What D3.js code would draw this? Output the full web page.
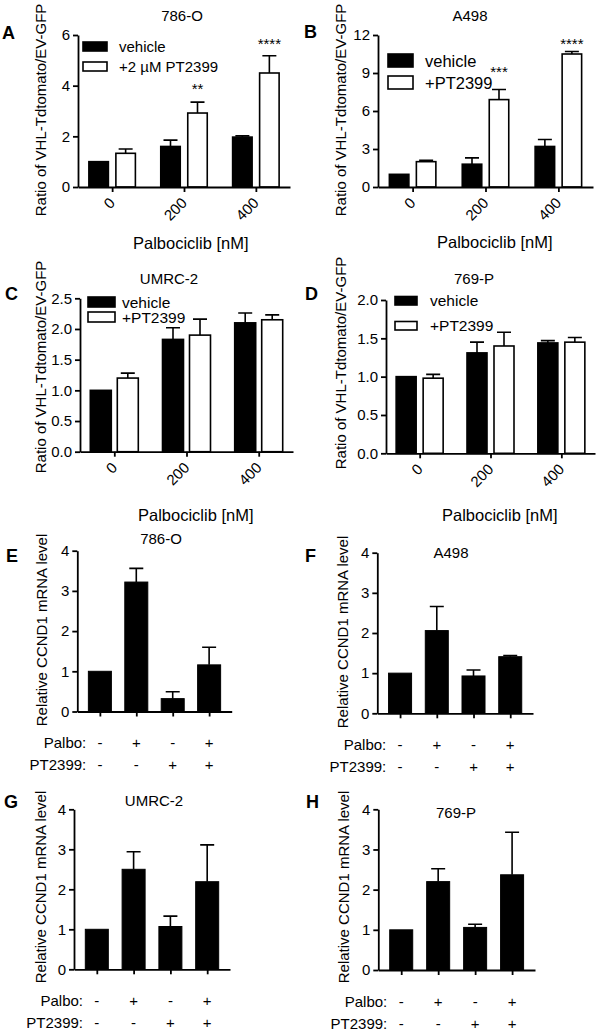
<!DOCTYPE html>
<html><head><meta charset="utf-8">
<script src="https://cdn.jsdelivr.net/npm/d3@7"></script>
<style>body{margin:0;background:#fff}</style>
</head><body><svg id="c" width="600" height="1031" style="background:#fff"></svg>
<script>
// ---------- data ----------
const doseLabels = ["0", "200", "400"];
const legendA = ["vehicle", "+2 µM PT2399"];
const legendOther = ["vehicle", "+PT2399"];

const aVehicle = [1.0, 1.6, 1.97], aVehicleSem = [0, 0.25, 0.05];
const aPT = [1.33, 2.92, 4.5], aPTSem = [0.17, 0.43, 0.68];
const aStarDose = ["200", "400"], aStarText = ["**", "****"], aStarLevel = [3.69, 5.46];

const bVehicle = [1.0, 1.8, 3.2], bVehicleSem = [0, 0.5, 0.55];
const bPT = [2.0, 6.9, 10.5], bPTSem = [0.1, 0.8, 0.2];
const bStarDose = ["200", "400"], bStarText = ["***", "****"], bStarLevel = [8.68, 10.92];

const cVehicle = [1.0, 1.83, 2.1], cVehicleSem = [0, 0.19, 0.16];
const cPT = [1.2, 1.9, 2.15], cPTSem = [0.08, 0.26, 0.08];

const dVehicle = [1.0, 1.31, 1.44], dVehicleSem = [0, 0.14, 0.03];
const dPT = [0.98, 1.4, 1.45], dPTSem = [0.05, 0.18, 0.06];

const conditions = ["c1", "c2", "c3", "c4"];
const palboSigns = ["-", "+", "-", "+"];
const ptSigns = ["-", "-", "+", "+"];
const eMean = [1.0, 3.22, 0.32, 1.16], eSem = [0, 0.34, 0.17, 0.44];
const fMean = [1.0, 2.06, 0.93, 1.41], fSem = [0, 0.6, 0.15, 0.03];
const gMean = [1.0, 2.5, 1.07, 2.19], gSem = [0, 0.44, 0.26, 0.92];
const hMean = [1.0, 2.2, 1.06, 2.37], hSem = [0, 0.32, 0.08, 1.06];

const ticksA = [0, 2, 4, 6], ticksB = [0, 3, 6, 9, 12];
const ticksC = [0, 0.5, 1.0, 1.5, 2.0, 2.5], ticksD = [0, 0.5, 1.0, 1.5, 2.0];
const ticksEH = [0, 1, 2, 3, 4];

const yTitleTop = "Ratio of VHL-Tdtomato/EV-GFP";
const xTitleTop = "Palbociclib [nM]";
const yTitleBottom = "Relative CCND1 mRNA level";

// ---------- drawing ----------
const FONT = "'Liberation Sans', Arial, Helvetica, sans-serif";
const svg = d3.select("#c");
const SW = 1.8;

function styleAxis(sel) {
  sel.attr("font-size", 15).attr("font-family", FONT);
  sel.selectAll("path,line").attr("stroke", "#000").attr("stroke-width", SW);
  sel.selectAll("text").attr("fill", "#000");
}

function txt(g, s, x, y, o = {}) {
  return g.append("text").attr("x", x).attr("y", y).text(s)
    .attr("font-family", FONT).attr("font-size", o.fs || 15)
    .attr("font-weight", o.bold ? "bold" : "normal")
    .attr("text-anchor", o.anchor || "middle")
    .attr("dominant-baseline", o.base || "central").attr("fill", "#000");
}

function groupedPanel(c, d) {
  const g = svg.append("g");
  const x = d3.scalePoint().domain(doseLabels).range([c.left, c.right]).padding(0.475);
  const y = d3.scaleLinear().domain([0, c.ymax]).range([c.bottom, c.top]);
  const series = [
    { vals: d.veh, sem: d.vehSem, fill: "#000", off: -c.gap / 2 - c.bw },
    { vals: d.pt, sem: d.ptSem, fill: "#fff", off: c.gap / 2 }
  ];
  series.forEach(s => {
    const rows = doseLabels.map((k, i) => ({ k, v: s.vals[i], e: s.sem[i] }));
    g.selectAll(null).data(rows.filter(r => r.e > 0)).enter().append("path")
      .attr("d", r => {
        const cx = x(r.k) + s.off + c.bw / 2, yt = y(r.v + r.e);
        return `M${cx},${y(r.v)}V${yt}M${cx - c.cap},${yt}H${cx + c.cap}`;
      })
      .attr("stroke", "#000").attr("stroke-width", 1.6).attr("fill", "none");
    g.selectAll(null).data(rows).enter().append("rect")
      .attr("x", r => x(r.k) + s.off).attr("width", c.bw)
      .attr("y", r => y(r.v)).attr("height", r => y(0) - y(r.v))
      .attr("fill", s.fill).attr("stroke", "#000").attr("stroke-width", 1.6);
  });
  if (d.starDose) {
    d.starDose.forEach((k, i) => {
      txt(g, d.starText[i], x(k) + c.gap / 2 + c.bw / 2, y(d.starLevel[i]), { base: "alphabetic" });
    });
  }
  const ya = g.append("g").attr("transform", `translate(${c.left},0)`)
    .call(d3.axisLeft(y).tickValues(c.ticks).tickFormat(c.fmt).tickSize(5).tickSizeOuter(0).tickPadding(3));
  styleAxis(ya);
  const xa = g.append("g").attr("transform", `translate(0,${c.bottom})`)
    .call(d3.axisBottom(x).tickSize(5).tickSizeOuter(0).tickFormat(""));
  styleAxis(xa);
  doseLabels.forEach(k => {
    g.append("text").text(k)
      .attr("transform", `translate(${x(k)},${c.bottom + 13}) rotate(-45)`)
      .attr("text-anchor", "end").attr("dominant-baseline", "central")
      .attr("font-family", FONT).attr("font-size", 15).attr("fill", "#000");
  });
  txt(g, c.title, c.titleX, c.titleY);
  txt(g, c.letter, c.letterX, c.letterY, { bold: true, fs: 18, anchor: "start", base: "alphabetic" });
  g.append("text").text(yTitleTop)
    .attr("transform", `translate(${c.yLabX},${c.yLabY}) rotate(-90)`)
    .attr("text-anchor", "middle").attr("dominant-baseline", "central")
    .attr("font-family", FONT).attr("font-size", 15).attr("fill", "#000");
  txt(g, xTitleTop, c.xTitleX, c.xTitleY, { anchor: "start", fs: 16.5 });
  const L = c.legend;
  d.legend.forEach((lab, i) => {
    g.append("rect").attr("x", L.x).attr("y", L.ys[i]).attr("width", L.w).attr("height", L.h)
      .attr("fill", i === 0 ? "#000" : "#fff").attr("stroke", "#000").attr("stroke-width", 1.6);
    txt(g, lab, L.tx, L.ys[i] + L.h / 2, { anchor: "start", fs: L.fs });
  });
}

function simplePanel(c, mean, sem) {
  const g = svg.append("g");
  const x = d3.scalePoint().domain(conditions).range([c.left, c.right]).padding(0.62);
  const y = d3.scaleLinear().domain([0, 4]).range([c.bottom, c.top]);
  const rows = conditions.map((k, i) => ({ k, v: mean[i], e: sem[i] }));
  g.selectAll(null).data(rows.filter(r => r.e > 0)).enter().append("path")
    .attr("d", r => {
      const cx = x(r.k), yt = y(r.v + r.e);
      return `M${cx},${y(r.v)}V${yt}M${cx - 7},${yt}H${cx + 7}`;
    })
    .attr("stroke", "#000").attr("stroke-width", 1.6).attr("fill", "none");
  g.selectAll(null).data(rows).enter().append("rect")
    .attr("x", r => x(r.k) - 11.5).attr("width", 23)
    .attr("y", r => y(r.v)).attr("height", r => y(0) - y(r.v))
    .attr("fill", "#000").attr("stroke", "#000").attr("stroke-width", 1);
  const ya = g.append("g").attr("transform", `translate(${c.left},0)`)
    .call(d3.axisLeft(y).tickValues(ticksEH).tickFormat(d3.format("d")).tickSize(5).tickSizeOuter(0).tickPadding(3));
  styleAxis(ya);
  const xa = g.append("g").attr("transform", `translate(0,${c.bottom})`)
    .call(d3.axisBottom(x).tickSize(5).tickSizeOuter(0).tickFormat(""));
  styleAxis(xa);
  txt(g, "Palbo:", c.left + 9, c.bottom + 31, { anchor: "end" });
  txt(g, "PT2399:", c.left + 9, c.bottom + 53, { anchor: "end" });
  conditions.forEach((k, i) => {
    txt(g, palboSigns[i], x(k), c.bottom + 31);
    txt(g, ptSigns[i], x(k), c.bottom + 53);
  });
  txt(g, c.title, c.titleX, c.titleY);
  txt(g, c.letter, c.letterX, c.letterY, { bold: true, fs: 18, anchor: "start", base: "alphabetic" });
  g.append("text").text(yTitleBottom)
    .attr("transform", `translate(${c.yLabX},${c.yLabY}) rotate(-90)`)
    .attr("text-anchor", "middle").attr("dominant-baseline", "central")
    .attr("font-family", FONT).attr("font-size", 15).attr("fill", "#000");
}

const f1 = d3.format("d"), f2 = d3.format(".1f");

groupedPanel({ left: 78, right: 290, top: 35, bottom: 187, ymax: 6, ticks: ticksA, fmt: f1,
  bw: 19.5, gap: 7.5, cap: 7, title: "786-O", titleX: 182, titleY: 15, letter: "A", letterX: 2, letterY: 39,
  yLabX: 40, yLabY: 110, xTitleX: 133, xTitleY: 243,
  legend: { x: 83, ys: [42, 62], w: 24, h: 9, tx: 119, fs: 15 } },
  { veh: aVehicle, vehSem: aVehicleSem, pt: aPT, ptSem: aPTSem, legend: legendA,
    starDose: aStarDose, starText: aStarText, starLevel: aStarLevel });

groupedPanel({ left: 378, right: 593, top: 35, bottom: 187, ymax: 12, ticks: ticksB, fmt: f1,
  bw: 19.5, gap: 7.5, cap: 7, title: "A498", titleX: 470, titleY: 15, letter: "B", letterX: 304, letterY: 38,
  yLabX: 340, yLabY: 110, xTitleX: 437, xTitleY: 242,
  legend: { x: 388, ys: [54, 76], w: 25, h: 13, tx: 425, fs: 16.5 } },
  { veh: bVehicle, vehSem: bVehicleSem, pt: bPT, ptSem: bPTSem, legend: legendOther,
    starDose: bStarDose, starText: bStarText, starLevel: bStarLevel });

groupedPanel({ left: 80, right: 293, top: 298.3, bottom: 451.7, ymax: 2.5, ticks: ticksC, fmt: f2,
  bw: 21, gap: 6, cap: 7, title: "UMRC-2", titleX: 169, titleY: 278, letter: "C", letterX: 5, letterY: 300,
  yLabX: 40, yLabY: 367, xTitleX: 138, xTitleY: 515,
  legend: { x: 88, ys: [297, 312], w: 27, h: 10, tx: 122, fs: 15.5 } },
  { veh: cVehicle, vehSem: cVehicleSem, pt: cPT, ptSem: cPTSem, legend: legendOther });

groupedPanel({ left: 386, right: 595, top: 300, bottom: 453.3, ymax: 2.0, ticks: ticksD, fmt: f2,
  bw: 20, gap: 7, cap: 7, title: "769-P", titleX: 474, titleY: 278, letter: "D", letterX: 305, letterY: 300,
  yLabX: 340, yLabY: 363, xTitleX: 442, xTitleY: 515,
  legend: { x: 395, ys: [296.5, 321.5], w: 22, h: 8.5, tx: 430, fs: 15.5 } },
  { veh: dVehicle, vehSem: dVehicleSem, pt: dPT, ptSem: dPTSem, legend: legendOther });

simplePanel({ left: 77.3, right: 231.7, top: 550.7, bottom: 711.5, title: "786-O", titleX: 161, titleY: 538,
  letter: "E", letterX: 6, letterY: 562, yLabX: 41, yLabY: 630 }, eMean, eSem);
simplePanel({ left: 377.3, right: 533, top: 552.7, bottom: 713.3, title: "A498", titleX: 451, titleY: 552.5,
  letter: "F", letterX: 305, letterY: 562, yLabX: 342, yLabY: 632 }, fMean, fSem);
simplePanel({ left: 74, right: 230, top: 809.3, bottom: 969.3, title: "UMRC-2", titleX: 154, titleY: 800,
  letter: "G", letterX: 4, letterY: 808, yLabX: 40, yLabY: 887 }, gMean, gSem);
simplePanel({ left: 378.3, right: 535, top: 809.3, bottom: 970, title: "769-P", titleX: 456, titleY: 812,
  letter: "H", letterX: 306, letterY: 808, yLabX: 343, yLabY: 887 }, hMean, hSem);
</script>
</body></html>
